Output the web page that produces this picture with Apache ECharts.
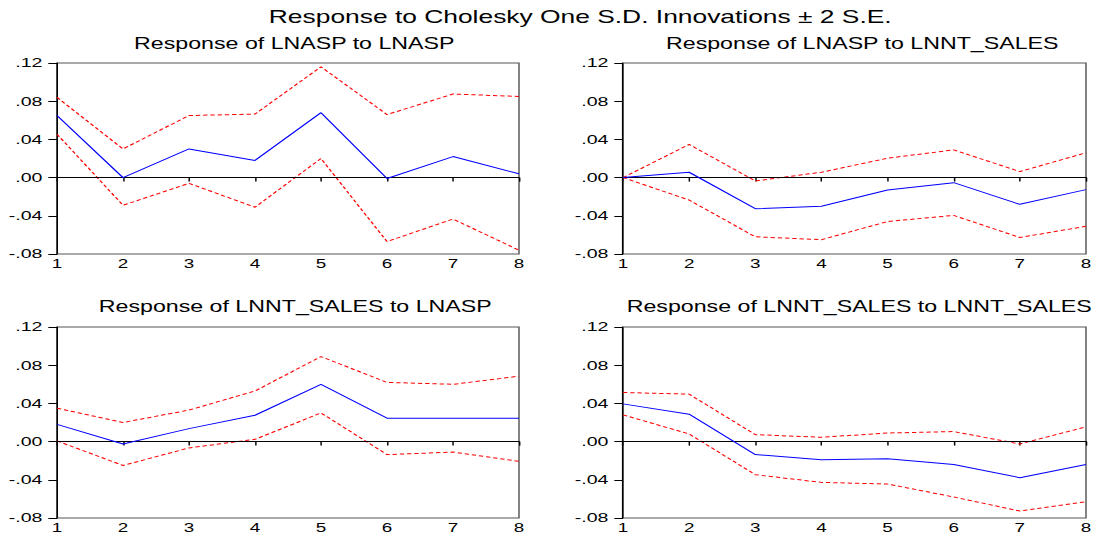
<!DOCTYPE html>
<html>
<head>
<meta charset="utf-8">
<script src="https://cdn.jsdelivr.net/npm/echarts@6/dist/echarts.min.js"></script>
<style>
html,body{margin:0;padding:0;background:#fff;overflow:hidden;}
#wrap{width:1096px;height:537px;overflow:hidden;}
#chart{width:756px;height:537px;transform-origin:0 0;transform:scaleX(1.4497);}
</style>
</head>
<body>
<div id="wrap"><div id="chart"></div></div>
<script>
const periods = ['1','2','3','4','5','6','7','8'];
const yTicks = [-0.08, -0.04, 0.00, 0.04, 0.08, 0.12];
const mainTitle = 'Response to Cholesky One S.D. Innovations \u00b1 2 S.E.';
const panelTitles = [
  'Response of LNASP to LNASP',
  'Response of LNASP to LNNT_SALES',
  'Response of LNNT_SALES to LNASP',
  'Response of LNNT_SALES to LNNT_SALES'
];

// Panel 1: LNASP to LNASP
const p1Resp  = [0.065, 0.000, 0.030, 0.018, 0.068, -0.001, 0.022, 0.004];
const p1Upper = [0.084, 0.030, 0.065, 0.0665, 0.116, 0.066, 0.0875, 0.085];
const p1Lower = [0.0455, -0.029, -0.006, -0.031, 0.020, -0.067, -0.0434, -0.076];

// Panel 2: LNASP to LNNT_SALES
const p2Resp  = [0.000, 0.0056, -0.0326, -0.030, -0.013, -0.0053, -0.028, -0.0126];
const p2Upper = [0.000, 0.0347, -0.0035, 0.0056, 0.0203, 0.029, 0.0063, 0.026];
const p2Lower = [0.000, -0.0235, -0.062, -0.065, -0.046, -0.0396, -0.0627, -0.051];

// Panel 3: LNNT_SALES to LNASP
const p3Resp  = [0.018, -0.0025, 0.0136, 0.0276, 0.060, 0.0245, 0.0245, 0.0245];
const p3Upper = [0.035, 0.020, 0.033, 0.053, 0.089, 0.062, 0.060, 0.0685];
const p3Lower = [0.0007, -0.025, -0.0066, 0.0024, 0.030, -0.0136, -0.011, -0.0206];

// Panel 4: LNNT_SALES to LNNT_SALES
const p4Resp  = [0.0395, 0.0287, -0.0136, -0.019, -0.018, -0.024, -0.0378, -0.024];
const p4Upper = [0.0514, 0.0497, 0.0073, 0.0045, 0.009, 0.0105, -0.0025, 0.0154];
const p4Lower = [0.028, 0.008, -0.0346, -0.0427, -0.0444, -0.058, -0.0727, -0.063];

const panels = [
  {resp: p1Resp, up: p1Upper, lo: p1Lower},
  {resp: p2Resp, up: p2Upper, lo: p2Lower},
  {resp: p3Resp, up: p3Upper, lo: p3Lower},
  {resp: p4Resp, up: p4Upper, lo: p4Lower}
];

const FONT = 'Liberation Sans, Arial, sans-serif';
// layout in logical (pre-stretch) units; the page is stretched horizontally like the reference
const S = 1.4497;
const gridPos = [
  {left: 57 / S, top: 63, width: 462 / S, height: 191},
  {left: 623 / S, top: 63, width: 463 / S, height: 191},
  {left: 57 / S, top: 327, width: 462 / S, height: 191},
  {left: 623 / S, top: 327, width: 463 / S, height: 191}
];

function fmt(v){
  if (Math.abs(v) < 1e-9) return '.00';
  const s = Math.abs(v).toFixed(2).replace(/^0/, '');
  return (v < 0 ? '-' : '') + s;
}

const grids = gridPos.map(g => Object.assign({show: true, borderColor: '#555', borderWidth: 1, backgroundColor: '#fff'}, g));

const xAxes = gridPos.map((g, i) => ({
  type: 'category', gridIndex: i, data: periods, boundaryGap: false,
  axisLine: {show: true, lineStyle: {color: '#000', width: 1}},
  axisTick: {show: true, inside: false, length: 4, lineStyle: {color: '#000'}},
  axisLabel: {color: '#000', fontFamily: FONT, fontSize: 13, margin: 3, interval: 0},
  splitLine: {show: false}
}));

const yAxes = gridPos.map((g, i) => ({
  type: 'value', gridIndex: i, min: yTicks[0], max: yTicks[yTicks.length - 1], interval: 0.04,
  axisLine: {show: true, lineStyle: {color: '#000', width: 1}},
  axisTick: {show: true, inside: false, length: 6, lineStyle: {color: '#000'}},
  axisLabel: {color: '#000', fontFamily: FONT, fontSize: 13.5, margin: 10, formatter: fmt},
  splitLine: {show: false}
}));

const series = [];
panels.forEach((p, i) => {
  series.push({
    type: 'line', xAxisIndex: i, yAxisIndex: i, data: p.resp,
    symbol: 'none', lineStyle: {color: '#0000ff', width: 1}, z: 5, silent: true,
    markLine: {silent: true, symbol: 'none', label: {show: false},
      lineStyle: {color: '#000', width: 1, type: 'solid'}, data: [{yAxis: 0}]}
  });
  series.push({
    type: 'line', xAxisIndex: i, yAxisIndex: i, data: p.up,
    symbol: 'none', lineStyle: {color: '#ff0000', width: 1, type: [3, 2]}, z: 4, silent: true
  });
  series.push({
    type: 'line', xAxisIndex: i, yAxisIndex: i, data: p.lo,
    symbol: 'none', lineStyle: {color: '#ff0000', width: 1, type: [3, 2]}, z: 4, silent: true
  });
});

const titles = [
  {text: mainTitle, left: 573 / S, top: 3, textAlign: 'center',
   textStyle: {fontFamily: FONT, fontSize: 18.2, fontWeight: 'normal', color: '#000'}},
  {text: panelTitles[0], left: 287 / S, top: 30, textAlign: 'center',
   textStyle: {fontFamily: FONT, fontSize: 16, fontWeight: 'normal', color: '#000'}},
  {text: panelTitles[1], left: 855 / S, top: 30, textAlign: 'center',
   textStyle: {fontFamily: FONT, fontSize: 16, fontWeight: 'normal', color: '#000'}},
  {text: panelTitles[2], left: 288 / S, top: 293, textAlign: 'center',
   textStyle: {fontFamily: FONT, fontSize: 16, fontWeight: 'normal', color: '#000'}},
  {text: panelTitles[3], left: 852 / S, top: 293, textAlign: 'center',
   textStyle: {fontFamily: FONT, fontSize: 16, fontWeight: 'normal', color: '#000'}}
];

const chart = echarts.init(document.getElementById('chart'), null, {renderer: 'svg'});
chart.setOption({
  backgroundColor: '#fff',
  animation: false,
  title: titles,
  grid: grids,
  xAxis: xAxes,
  yAxis: yAxes,
  series: series
});
</script>
</body>
</html>
